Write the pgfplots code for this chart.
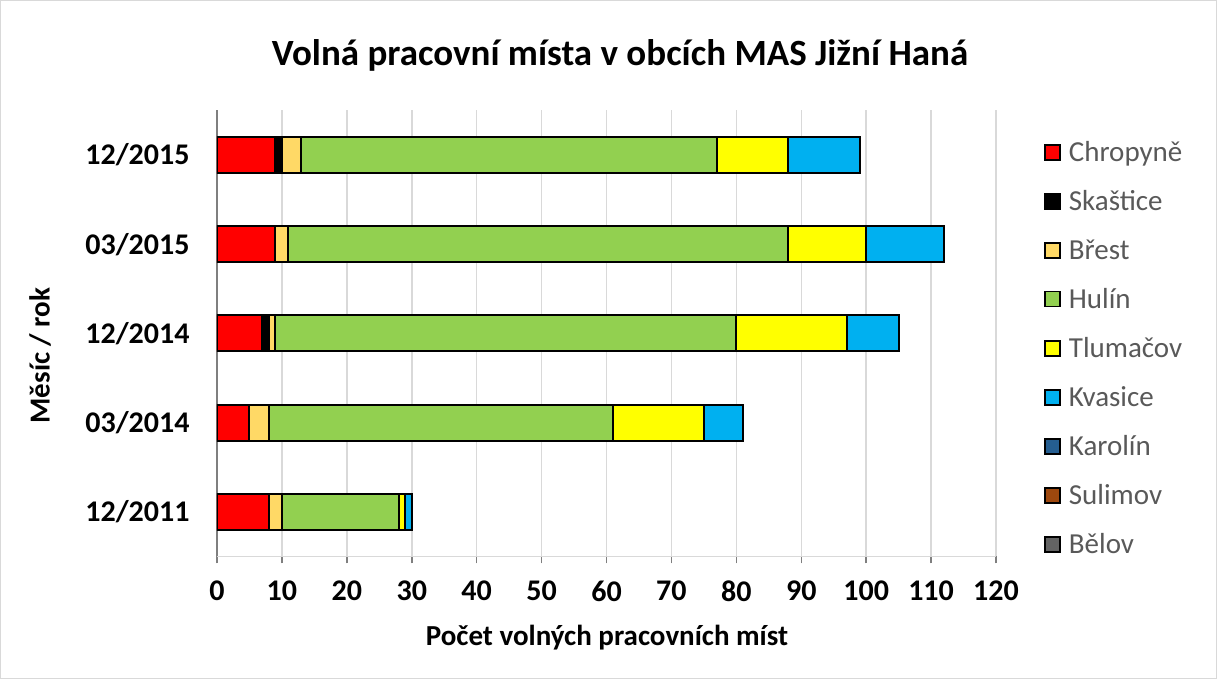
\documentclass[border=0pt]{standalone}
\usepackage{pgfplots}
\pgfplotsset{compat=1.18}
\usepackage{fontspec}
\setmainfont{Carlito}
\definecolor{cChr}{HTML}{FF0000}
\definecolor{cSka}{HTML}{000000}
\definecolor{cBre}{HTML}{FFD966}
\definecolor{cHul}{HTML}{92D050}
\definecolor{cTlu}{HTML}{FFFF00}
\definecolor{cKva}{HTML}{00B0F0}
\definecolor{cKar}{HTML}{255E91}
\definecolor{cSul}{HTML}{9E480E}
\definecolor{cBel}{HTML}{636363}
\definecolor{txtgray}{HTML}{595959}
\definecolor{gridgray}{HTML}{D9D9D9}
\definecolor{axgray}{HTML}{7F7F7F}
\begin{document}
\begin{tikzpicture}
\draw[gridgray, line width=1pt] (-216.5pt,-122pt) rectangle (999.5pt,556pt);
\begin{axis}[
  scale only axis,
  width=779pt, height=446pt,
  xbar stacked,
  bar width=36pt,
  xmin=0, xmax=120,
  ymin=-0.5, ymax=4.5,
  xtick={0,10,...,120},
  ytick={0,1,2,3,4},
  yticklabels={12/2011,03/2014,12/2014,03/2015,12/2015},
  xmajorgrids,
  grid style={draw=gridgray, line width=1.5pt},
  axis x line*=bottom,
  axis y line*=left,
  x axis line style={draw=gridgray, line width=1.5pt},
  y axis line style={draw=axgray, line width=1.5pt},
  tick align=outside,
  major tick length=7pt,
  x tick style={draw=axgray, line width=1.5pt},
  y tick style={draw=none},
  tick label style={font=\fontsize{30}{30}\selectfont\bfseries},
  xticklabel style={yshift=-14pt},
  yticklabel style={xshift=-17pt},
  /pgf/number format/assume math mode=true,
  legend style={draw=none, fill=none, at={(1.058,0.94)}, anchor=north west,
    font=\fontsize{29}{29}\selectfont, text=txtgray, row sep=23.5pt},
  legend cell align=left,
  legend image code/.code={\draw[#1, line width=1.5pt] (0pt,-7.5pt) rectangle (15pt,7.5pt);},
  every axis plot/.append style={line width=2pt},
]
\addplot[fill=cChr, draw=black] coordinates {(8,0) (5,1) (7,2) (9,3) (9,4)};
\addplot[fill=cSka, draw=black] coordinates {(0,0) (0,1) (1,2) (0,3) (1,4)};
\addplot[fill=cBre, draw=black] coordinates {(2,0) (3,1) (1,2) (2,3) (3,4)};
\addplot[fill=cHul, draw=black] coordinates {(18,0) (53,1) (71,2) (77,3) (64,4)};
\addplot[fill=cTlu, draw=black] coordinates {(1,0) (14,1) (17,2) (12,3) (11,4)};
\addplot[fill=cKva, draw=black] coordinates {(1,0) (6,1) (8,2) (12,3) (11,4)};
\addplot[fill=cKar, draw=none] coordinates {(0,0) (0,1) (0,2) (0,3) (0,4)};
\addplot[fill=cSul, draw=none] coordinates {(0,0) (0,1) (0,2) (0,3) (0,4)};
\addplot[fill=cBel, draw=none] coordinates {(0,0) (0,1) (0,2) (0,3) (0,4)};
\legend{\hspace{6pt}Chropyně,\hspace{6pt}Skaštice,\hspace{6pt}Břest,\hspace{6pt}Hulín,\hspace{6pt}Tlumačov,\hspace{6pt}Kvasice,\hspace{6pt}Karolín,\hspace{6pt}Sulimov,\hspace{6pt}Bělov}
\end{axis}
\node[font=\fontsize{37}{37}\selectfont\bfseries] at (403pt,501pt) {Volná pracovní místa v obcích MAS Jižní Haná};
\node[font=\fontsize{29}{29}\selectfont\bfseries] at (390pt,-81pt) {Počet volných pracovních míst};
\node[font=\fontsize{29}{29}\selectfont\bfseries, rotate=90] at (-177pt,201pt) {Měsíc / rok};
\end{tikzpicture}
\end{document}
